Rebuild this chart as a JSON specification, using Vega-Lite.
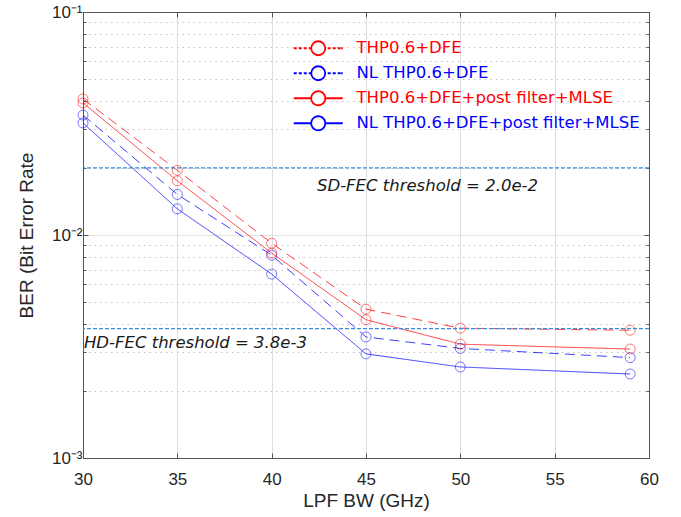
{
  "$schema": "https://vega.github.io/schema/vega-lite/v6.json",
  "width": 566,
  "height": 446,
  "autosize": {"type": "none"},
  "padding": {"left": 83, "top": 12, "right": 32, "bottom": 59},
  "background": "white",
  "config": {
    "view": {"stroke": null},
    "axis": {
      "labelFont": "Liberation Sans",
      "labelFontSize": 17,
      "labelColor": "#262626",
      "titleFont": "Liberation Sans",
      "titleFontSize": 19,
      "titleFontWeight": "normal",
      "titleColor": "#262626",
      "domainColor": "#555555",
      "tickColor": "#555555",
      "domainWidth": 1
    }
  },
  "datasets": {
    "ber": [
      {"bw": 30, "ber": 0.0408, "series": "THP0.6+DFE", "eq": "DFE"},
      {"bw": 35, "ber": 0.0195, "series": "THP0.6+DFE", "eq": "DFE"},
      {"bw": 40, "ber": 0.00918, "series": "THP0.6+DFE", "eq": "DFE"},
      {"bw": 45, "ber": 0.00465, "series": "THP0.6+DFE", "eq": "DFE"},
      {"bw": 50, "ber": 0.00382, "series": "THP0.6+DFE", "eq": "DFE"},
      {"bw": 59, "ber": 0.00374, "series": "THP0.6+DFE", "eq": "DFE"},
      {"bw": 30, "ber": 0.0345, "series": "NL THP0.6+DFE", "eq": "DFE"},
      {"bw": 35, "ber": 0.0152, "series": "NL THP0.6+DFE", "eq": "DFE"},
      {"bw": 40, "ber": 0.00812, "series": "NL THP0.6+DFE", "eq": "DFE"},
      {"bw": 45, "ber": 0.00349, "series": "NL THP0.6+DFE", "eq": "DFE"},
      {"bw": 50, "ber": 0.0031, "series": "NL THP0.6+DFE", "eq": "DFE"},
      {"bw": 59, "ber": 0.00282, "series": "NL THP0.6+DFE", "eq": "DFE"},
      {"bw": 30, "ber": 0.0391, "series": "THP0.6+DFE+post filter+MLSE", "eq": "MLSE"},
      {"bw": 35, "ber": 0.0175, "series": "THP0.6+DFE+post filter+MLSE", "eq": "MLSE"},
      {"bw": 40, "ber": 0.0083, "series": "THP0.6+DFE+post filter+MLSE", "eq": "MLSE"},
      {"bw": 45, "ber": 0.00417, "series": "THP0.6+DFE+post filter+MLSE", "eq": "MLSE"},
      {"bw": 50, "ber": 0.00324, "series": "THP0.6+DFE+post filter+MLSE", "eq": "MLSE"},
      {"bw": 59, "ber": 0.00308, "series": "THP0.6+DFE+post filter+MLSE", "eq": "MLSE"},
      {"bw": 30, "ber": 0.0318, "series": "NL THP0.6+DFE+post filter+MLSE", "eq": "MLSE"},
      {"bw": 35, "ber": 0.0131, "series": "NL THP0.6+DFE+post filter+MLSE", "eq": "MLSE"},
      {"bw": 40, "ber": 0.00668, "series": "NL THP0.6+DFE+post filter+MLSE", "eq": "MLSE"},
      {"bw": 45, "ber": 0.00293, "series": "NL THP0.6+DFE+post filter+MLSE", "eq": "MLSE"},
      {"bw": 50, "ber": 0.00256, "series": "NL THP0.6+DFE+post filter+MLSE", "eq": "MLSE"},
      {"bw": 59, "ber": 0.00238, "series": "NL THP0.6+DFE+post filter+MLSE", "eq": "MLSE"}
    ],
    "thresholds": [
      {"ber": 0.02, "name": "SD-FEC"},
      {"ber": 0.0038, "name": "HD-FEC"}
    ],
    "notes": [
      {"bw": 42.4, "ber": 0.0166, "label": "SD-FEC threshold = 2.0e-2"},
      {"bw": 30.05, "ber": 0.00328, "label": "HD-FEC threshold = 3.8e-3"}
    ]
  },
  "resolve": {"axis": {"x": "independent", "y": "independent"}},
  "layer": [
    {
      "data": {"name": "ber"},
      "mark": {"type": "line", "strokeWidth": 1, "strokeOpacity": 0.75, "clip": true},
      "encoding": {
        "x": {
          "field": "bw", "type": "quantitative",
          "scale": {"domain": [30, 60], "nice": false, "zero": false},
          "axis": {
            "orient": "bottom",
            "title": "LPF BW (GHz)",
            "values": [30, 35, 40, 45, 50, 55, 60],
            "grid": true, "gridColor": "#dddddd", "gridWidth": 1,
            "tickSize": -5, "labelPadding": 18, "titlePadding": 4,
            "labelFlush": false
          }
        },
        "y": {
          "field": "ber", "type": "quantitative",
          "scale": {"type": "log", "domain": [0.001, 0.1], "nice": false},
          "axis": {
            "orient": "left",
            "title": "BER (Bit Error Rate",
            "values": [0.001, 0.002, 0.003, 0.004, 0.005, 0.006, 0.007, 0.008, 0.009, 0.01, 0.02, 0.03, 0.04, 0.05, 0.06, 0.07, 0.08, 0.09, 0.1],
            "labelExpr": "datum.value == 0.1 ? '10⁻¹' : datum.value == 0.01 ? '10⁻²' : datum.value == 0.001 ? '10⁻³' : ''",
            "grid": true,
            "gridColor": {"condition": {"test": "datum.value == 0.1 || datum.value == 0.01 || datum.value == 0.001", "value": "#dddddd"}, "value": "#c4c4c4"},
            "gridDash": {"condition": {"test": "datum.value == 0.1 || datum.value == 0.01 || datum.value == 0.001", "value": [1, 0]}, "value": [1.5, 4]},
            "tickSize": {"condition": {"test": "datum.value == 0.1 || datum.value == 0.01 || datum.value == 0.001", "value": -5}, "value": -3},
            "labelPadding": 6, "titlePadding": 15, "labelFlush": false, "labelOverlap": false
          }
        },
        "color": {
          "field": "series", "type": "nominal",
          "scale": {
            "domain": ["THP0.6+DFE", "NL THP0.6+DFE", "THP0.6+DFE+post filter+MLSE", "NL THP0.6+DFE+post filter+MLSE"],
            "range": ["#ff0000", "#0000ff", "#ff0000", "#0000ff"]
          },
          "legend": {
            "orient": "none", "legendX": 227, "legendY": 28, "padding": 0,
            "title": null,
            "symbolType": "M-3.5,0H-1A1,1 0 0,1 1,0A1,1 0 0,1 -1,0A1,1 0 0,1 1,0H3.5",
            "symbolSize": 196, "symbolStrokeWidth": 1.8,
            "symbolFillColor": "white",
            "labelFont": "DejaVu Sans", "labelFontSize": 16.5, "labelOffset": 30, "labelLimit": 500,
            "gridAlign": "all",
            "rowPadding": 3,
            "encoding": {
              "symbols": {
                "strokeDash": {"condition": {"test": "datum.value == 'THP0.6+DFE' || datum.value == 'NL THP0.6+DFE'", "value": [3, 2, 3, 2, 3, 2, 68.5, 2, 3, 2, 3, 2, 3, 0.5]}, "value": [1, 0]},
                "fill": {"value": "white"},
                "fillOpacity": {"value": 1}
              },
              "labels": {
                "fill": {"condition": {"test": "datum.value == 'NL THP0.6+DFE' || datum.value == 'NL THP0.6+DFE+post filter+MLSE'", "value": "#0000ff"}, "value": "#ff0000"}
              }
            }
          }
        },
        "strokeDash": {
          "field": "eq", "type": "nominal",
          "scale": {"domain": ["DFE", "MLSE"], "range": [[10, 6], [1, 0]]},
          "legend": null
        }
      }
    },
    {
      "data": {"name": "ber"},
      "mark": {"type": "point", "filled": false, "size": 100, "strokeWidth": 1, "strokeOpacity": 0.75},
      "encoding": {
        "x": {
          "field": "bw", "type": "quantitative",
          "axis": {"orient": "top", "title": null, "labels": false, "grid": false, "values": [30, 35, 40, 45, 50, 55, 60], "tickSize": -5}
        },
        "y": {
          "field": "ber", "type": "quantitative",
          "axis": {
            "orient": "right", "title": null, "labels": false, "grid": false,
            "values": [0.001, 0.002, 0.003, 0.004, 0.005, 0.006, 0.007, 0.008, 0.009, 0.01, 0.02, 0.03, 0.04, 0.05, 0.06, 0.07, 0.08, 0.09, 0.1],
            "tickSize": {"condition": {"test": "datum.value == 0.1 || datum.value == 0.01 || datum.value == 0.001", "value": -5}, "value": -3}
          }
        },
        "stroke": {
          "field": "series", "type": "nominal",
          "scale": {
            "domain": ["THP0.6+DFE", "NL THP0.6+DFE", "THP0.6+DFE+post filter+MLSE", "NL THP0.6+DFE+post filter+MLSE"],
            "range": ["#ff0000", "#0000ff", "#ff0000", "#0000ff"]
          },
          "legend": null
        }
      }
    },
    {
      "data": {"name": "thresholds"},
      "mark": {"type": "rule", "color": "#3b8bd6", "strokeWidth": 1.2, "strokeDash": [4, 2]},
      "encoding": {
        "y": {"field": "ber", "type": "quantitative", "axis": null}
      }
    },
    {
      "data": {"name": "notes"},
      "mark": {"type": "text", "align": "left", "baseline": "middle", "font": "DejaVu Sans", "fontSize": 16.5, "fontStyle": "italic", "color": "#1a1a1a"},
      "encoding": {
        "x": {"field": "bw", "type": "quantitative", "axis": null},
        "y": {"field": "ber", "type": "quantitative", "axis": null},
        "text": {"field": "label"}
      }
    }
  ]
}
